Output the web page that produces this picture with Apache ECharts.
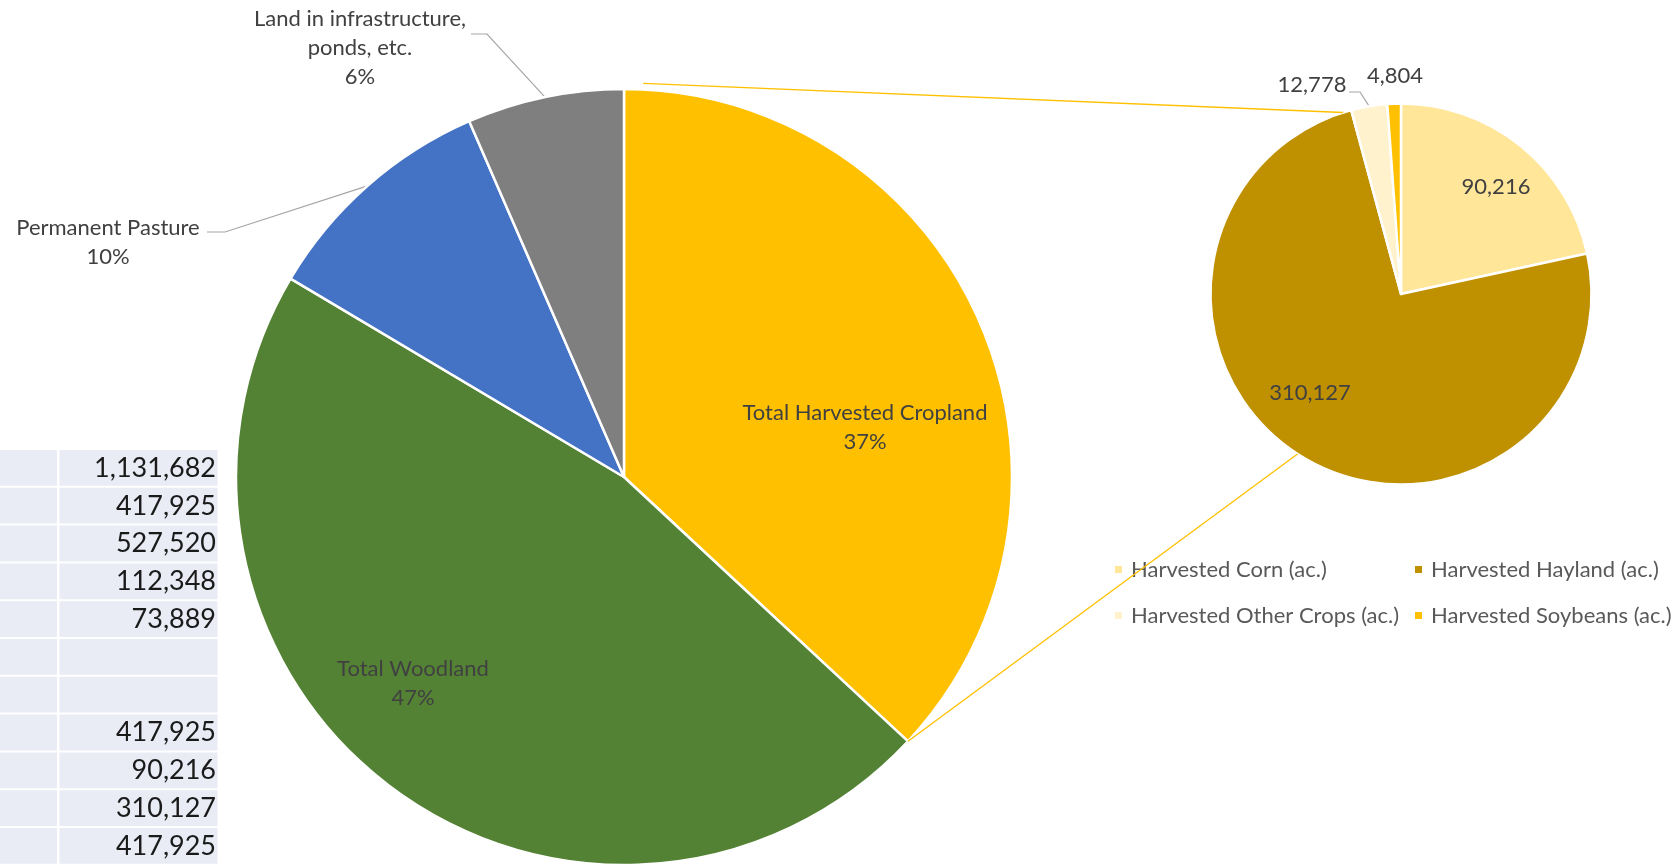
<!DOCTYPE html>
<html><head><meta charset="utf-8">
<script src="https://cdn.jsdelivr.net/npm/echarts@6/dist/echarts.min.js"></script>
<style>html,body{margin:0;padding:0;background:#fff;} #chart{width:1678px;height:867px;}</style>
</head><body><div id="chart"></div>
<script>
// ---------- data ----------
const mainCategories = ['Total Harvested Cropland', 'Total Woodland', 'Permanent Pasture', 'Land in infrastructure,\nponds, etc.'];
const mainValues = [417925, 527520, 112348, 73889];
const subCategories = ['Harvested Corn (ac.)', 'Harvested Hayland (ac.)', 'Harvested Other Crops (ac.)', 'Harvested Soybeans (ac.)'];
const subValues = [90216, 310127, 12778, 4804];
const tableValues = [1131682, 417925, 527520, 112348, 73889, null, null, 417925, 90216, 310127, 417925];

// ---------- styles / layout ----------
const mainColors = ['#FFC000', '#548235', '#4472C4', '#7F7F7F'];
const subColors = ['#FFE699', '#BF9000', '#FFF2CC', '#FFC000'];
const FONT = 'Lato';
const LABEL_SIZE = 22;
const BIG = { cx: 624, cy: 477, r: 388 };
const SMALL = { cx: 1401, cy: 294, r: 190.5 };
const mainLabelPos = [
  { x: 865, y: 427 },
  { x: 413, y: 683 },
  { x: 108, y: 242, line: [[225, 232], [207, 232]] },
  { x: 360, y: 48, line: [[487, 34], [471, 34]] }
];
const subLabelPos = [
  { x: 1496, y: 187 },
  { x: 1310, y: 393 },
  { x: 1312, y: 85, line: [[1360, 92], [1349, 92]] },
  { x: 1395, y: 76 }
];

function polar(c, r, deg) {
  const a = deg * Math.PI / 180;
  return [c.cx + r * Math.cos(a), c.cy - r * Math.sin(a)];
}
function midAngle(vals, i) {
  const tot = vals.reduce((s, v) => s + v, 0);
  let cum = 0;
  for (let k = 0; k < i; k++) cum += vals[k];
  return 90 - 360 * (cum + vals[i] / 2) / tot;
}
function endAngle(vals, i) {
  const tot = vals.reduce((s, v) => s + v, 0);
  let cum = 0;
  for (let k = 0; k <= i; k++) cum += vals[k];
  return 90 - 360 * cum / tot;
}

const chart = echarts.init(document.getElementById('chart'), null, { renderer: 'canvas' });

const mainData = mainCategories.map((n, i) => ({
  name: n, value: mainValues[i],
  itemStyle: { color: mainColors[i] },
  label: { position: mainLabelPos[i].line ? 'outside' : 'inside' },
  labelLine: { show: !!mainLabelPos[i].line }
}));
const subData = subCategories.map((n, i) => ({
  name: n, value: subValues[i],
  itemStyle: { color: subColors[i] },
  label: { position: subLabelPos[i].line || i === 3 ? 'outside' : 'inside' },
  labelLine: { show: !!subLabelPos[i].line }
}));

function makeLayout(pos, vals, c) {
  return function (p) {
    const L = pos[p.dataIndex];
    const res = { x: L.x, y: L.y, align: 'center', verticalAlign: 'middle' };
    if (L.line) {
      const e = polar(c, c.r, midAngle(vals, p.dataIndex));
      res.labelLinePoints = [e, L.line[0], L.line[1]];
    }
    return res;
  };
}

// table graphics
const tableEls = [];
tableValues.forEach((v, i) => {
  const top = 450 + i * 37.8;
  tableEls.push({ type: 'rect', shape: { x: 0, y: top, width: 57, height: 35.8 }, style: { fill: '#E9EBF5' }, silent: true });
  tableEls.push({ type: 'rect', shape: { x: 59.5, y: top, width: 158, height: 35.8 }, style: { fill: '#E9EBF5' }, silent: true });
  if (v !== null) {
    tableEls.push({ type: 'text', x: 216, y: top + 18, style: { text: v.toLocaleString('en-US'), fill: '#1a1a1a', font: '27px ' + FONT, align: 'right', verticalAlign: 'middle' }, silent: true });
  }
});

const c1s = polar(BIG, BIG.r + 6, 90 - 2.8);
const c1e = polar(SMALL, SMALL.r, 107.7);
const c2s = polar(BIG, BIG.r, endAngle(mainValues, 0));
const c2e = polar(SMALL, SMALL.r, -122.9);

const legendBase = {
  orient: 'vertical', icon: 'rect', itemWidth: 9, itemHeight: 9, itemGap: 21,
  selectedMode: false, top: 552,
  textStyle: { fontFamily: FONT, fontSize: LABEL_SIZE, color: '#595959', lineHeight: 25, padding: [0, 0, 0, 3] }
};

chart.setOption({
  animation: false,
  backgroundColor: '#fff',
  legend: [
    Object.assign({}, legendBase, { left: 1108, data: [subCategories[0], subCategories[2]] }),
    Object.assign({}, legendBase, { left: 1408, data: [subCategories[1], subCategories[3]] })
  ],
  graphic: tableEls.concat([
    { type: 'line', shape: { x1: c1s[0], y1: c1s[1], x2: c1e[0], y2: c1e[1] }, style: { stroke: '#FFC000', lineWidth: 1.3 }, z: 10, silent: true },
    { type: 'line', shape: { x1: c2s[0], y1: c2s[1], x2: c2e[0], y2: c2e[1] }, style: { stroke: '#FFC000', lineWidth: 1.3 }, z: 10, silent: true }
  ]),
  series: [
    {
      type: 'pie', center: [BIG.cx, BIG.cy], radius: BIG.r, startAngle: 90, clockwise: true,
      percentPrecision: 0, avoidLabelOverlap: false, silent: true,
      itemStyle: { borderColor: '#fff', borderWidth: 2.5 },
      label: { formatter: '{b}\n{d}%', fontFamily: FONT, fontSize: LABEL_SIZE, color: '#404040', lineHeight: 29, align: 'center' },
      labelLine: { lineStyle: { color: '#A6A6A6', width: 1.2 }, smooth: false },
      labelLayout: makeLayout(mainLabelPos, mainValues, BIG),
      data: mainData
    },
    {
      type: 'pie', center: [SMALL.cx, SMALL.cy], radius: SMALL.r, startAngle: 90, clockwise: true,
      avoidLabelOverlap: false, silent: true,
      itemStyle: { borderColor: '#fff', borderWidth: 2.5 },
      label: { formatter: p => p.value.toLocaleString('en-US'), fontFamily: FONT, fontSize: LABEL_SIZE, color: '#404040' },
      labelLine: { lineStyle: { color: '#A6A6A6', width: 1.2 }, smooth: false },
      labelLayout: makeLayout(subLabelPos, subValues, SMALL),
      data: subData
    }
  ]
});
</script></body></html>
